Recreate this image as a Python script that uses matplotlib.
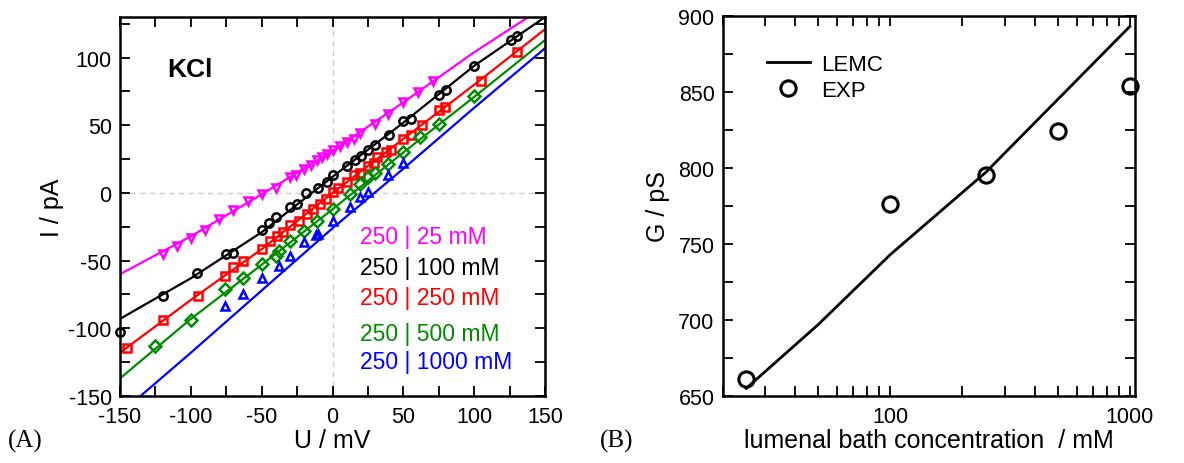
import matplotlib
matplotlib.use('Agg')
import numpy as np
import matplotlib.pyplot as plt
from matplotlib.ticker import MultipleLocator, FuncFormatter, LogLocator, NullFormatter

plt.rcParams['font.family'] = ['Liberation Sans', 'DejaVu Sans']
plt.rcParams['axes.unicode_minus'] = False

# ---- panel A: I-V curves, KCl ----
U_line = [-150, -100, -50, 0, 50, 100, 150]
I_line_25 = [-60, -32, -1, 31, 67, 104, 138]
I_line_100 = [-93, -63, -29, 12, 52, 94, 130]
I_line_250 = [-118, -79, -41.5, 0, 40, 80, 121]
I_line_500 = [-137, -93, -53, -12, 30, 71, 113]
I_line_1000 = [-163, -118, -72, -26, 18, 63, 107]

U_exp_25 = [-120, -110, -100, -90, -80, -70, -60, -50, -40, -30, -26, -20, -15, -11,
            -7.5, -4, 0, 5, 10, 15, 19, 30, 39, 50, 60, 71]
I_exp_25 = [-45, -39, -33, -27, -19, -12.5, -6, -0.5, 3.5, 11.5, 13, 18, 21, 24,
            26.5, 29, 31.5, 35, 37.5, 40, 44, 51, 58.5, 67, 74.5, 83]
U_exp_100 = [-150, -120, -96, -75, -70, -50, -45, -40, -30, -25, -19, -10, -4, 0.5,
             10, 16, 20, 25, 30, 40, 50, 55, 75, 80, 100, 126, 130]
I_exp_100 = [-103, -76, -59, -45, -44, -27, -22, -18, -10.5, -8, 0, 4, 8, 13,
             20, 24, 27.5, 32, 35.5, 43, 53, 55, 72.5, 76, 94, 113, 116]
U_exp_250 = [-145, -120, -95, -76, -70, -63, -50, -44, -39, -35, -30, -24, -18, -13.5,
             -9, -5, 0.5, 4, 10, 15, 19, 25, 29, 31, 38, 41, 50, 55, 63, 75, 79, 105, 130]
I_exp_250 = [-114.5, -93.5, -76, -61, -55, -50, -41.5, -35.5, -31.5, -29, -24, -20.5, -15.5, -12,
             -8, -4.5, 0.5, 4, 8, 13, 15, 20, 22.5, 26.5, 30, 31.5, 40, 42.5, 50, 61, 63.5, 83, 104.5]
U_exp_500 = [-125, -100, -76, -63, -50, -40, -38, -30, -20, -11, 0.5, 12, 19, 25,
             30, 39, 50, 62, 75, 100]
I_exp_500 = [-113, -93.5, -71, -62.5, -52.5, -46.5, -43, -35.5, -28, -20.5, -12, -1, 6.5, 11.5,
             15, 21.5, 30, 41, 51, 72]
U_exp_1000 = [-76, -63, -50, -38, -30, -20.5, -12, -10, 0.5, 12, 19, 25, 39, 50]
I_exp_1000 = [-83.5, -75, -62.5, -54, -46.5, -36.5, -31, -30.5, -20.5, -10.5, -3, 0.5, 13, 22.5]

labels_A = ['250 | 25 mM', '250 | 100 mM', '250 | 250 mM', '250 | 500 mM', '250 | 1000 mM']
colors_A = ['#ff00ff', '#000000', '#ff0000', '#008b00', '#0000ff']
markers_A = ['v', 'o', 's', 'D', '^']

# ---- panel B: conductance vs lumenal concentration ----
c_lemc = [25, 50, 100, 250, 500, 1000]
G_lemc = [655, 697, 743, 797, 845, 893]
c_exp = [25, 100, 250, 500, 1000]
G_exp = [661, 776, 795, 824, 854]

fig = plt.figure(figsize=(11.84, 4.64), dpi=100)
axA = fig.add_axes([0.1014, 0.1444, 0.359, 0.8168])
axB = fig.add_axes([0.6106, 0.1444, 0.348, 0.8196])

lines = [I_line_25, I_line_100, I_line_250, I_line_500, I_line_1000]
Us = [U_exp_25, U_exp_100, U_exp_250, U_exp_500, U_exp_1000]
Is = [I_exp_25, I_exp_100, I_exp_250, I_exp_500, I_exp_1000]

axA.axhline(0, color='#cccccc', lw=1, ls=(0, (4, 3)), zorder=0)
axA.axvline(0, color='#cccccc', lw=1, ls=(0, (4, 3)), zorder=0)
for I_l, U_e, I_e, col, mk in zip(lines, Us, Is, colors_A, markers_A):
    axA.plot(U_line, I_l, color=col, lw=1.6)
    axA.plot(U_e, I_e, ls='none', marker=mk, ms=6, mfc='none', mec=col, mew=1.8, clip_on=False)

axA.set_xlim(-150, 150)
axA.set_ylim(-150, 130)
axA.xaxis.set_major_locator(MultipleLocator(50))
axA.xaxis.set_minor_locator(MultipleLocator(25))
axA.yaxis.set_major_locator(MultipleLocator(50))
axA.yaxis.set_minor_locator(MultipleLocator(25))
axA.set_xlabel('U / mV', fontsize=18, labelpad=1)
axA.set_ylabel('I / pA', fontsize=18, labelpad=3)
axA.text(0.11, 0.864, 'KCl', transform=axA.transAxes, fontsize=19, fontweight='bold', va='center')
ys = [0.422, 0.340, 0.259, 0.164, 0.092]
for lab, col, yy in zip(labels_A, colors_A, ys):
    axA.text(0.565, yy, lab, color=col, fontsize=16.5, transform=axA.transAxes, va='center')

axB.plot(c_lemc, G_lemc, color='black', lw=2, label='LEMC')
axB.plot(c_exp, G_exp, ls='none', marker='o', ms=11, mfc='none', mec='black', mew=2.2,
         clip_on=False, label='EXP')
axB.set_xscale('log')
axB.set_xlim(20, 1050)
axB.set_ylim(650, 900)
axB.xaxis.set_major_locator(LogLocator(base=10, numticks=10))
axB.xaxis.set_minor_locator(LogLocator(base=10, subs=np.arange(2, 10), numticks=10))
axB.xaxis.set_major_formatter(FuncFormatter(lambda v, p: '%d' % v))
axB.xaxis.set_minor_formatter(NullFormatter())
axB.yaxis.set_major_locator(MultipleLocator(50))
axB.yaxis.set_minor_locator(MultipleLocator(25))
axB.set_xlabel('lumenal bath concentration  / mM', fontsize=18, labelpad=1)
axB.set_ylabel('G / pS', fontsize=18, labelpad=6)
axB.legend(loc='upper left', bbox_to_anchor=(0.07, 0.94), frameon=False, fontsize=16,
           handlelength=1.9, handletextpad=0.5, labelspacing=0.2, borderpad=0.2)

for ax in (axA, axB):
    for sp in ax.spines.values():
        sp.set_linewidth(1.8)
    ax.tick_params(which='both', direction='in', top=True, right=True, labelsize=15.5,
                   length=7, width=1.3)
    ax.tick_params(axis='x', which='both', pad=7)
    ax.tick_params(axis='y', which='both', pad=6)

fig.text(0.007, 0.035, '(A)', fontsize=18, family='Liberation Serif')
fig.text(0.507, 0.035, '(B)', fontsize=18, family='Liberation Serif')

plt.savefig('out.png', dpi=100)
plt.close()
